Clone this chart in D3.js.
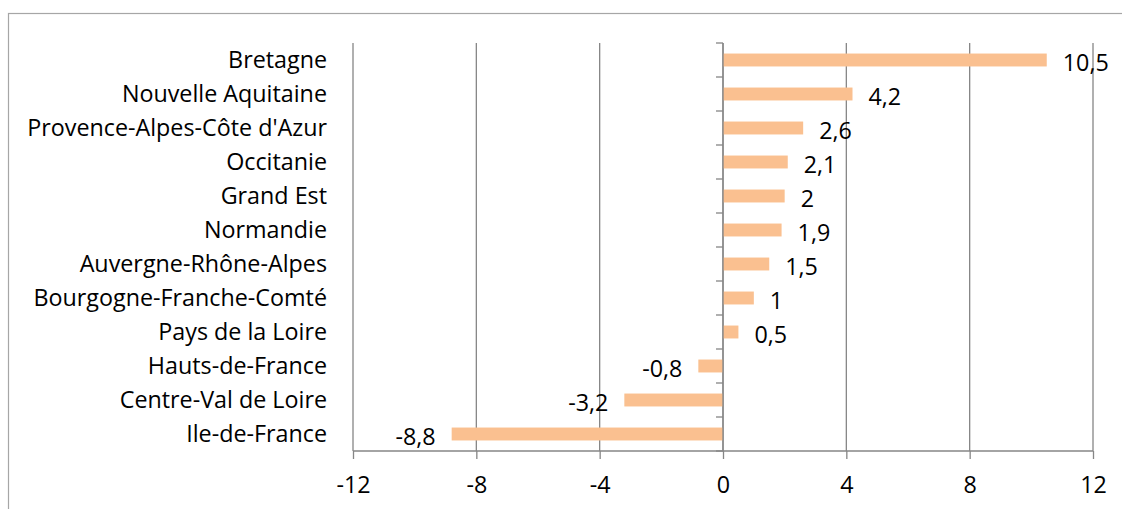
<!DOCTYPE html>
<html><head><meta charset="utf-8">
<script src="https://cdn.jsdelivr.net/npm/d3@7"></script>
<style>
html,body{margin:0;padding:0;background:#fff;}
svg{display:block;font-family:"Open Sans","Lato",sans-serif;}
</style></head>
<body>
<svg id="c" width="1122" height="509"></svg>
<script>
const categories = ["Bretagne","Nouvelle Aquitaine","Provence-Alpes-Côte d'Azur","Occitanie","Grand Est","Normandie","Auvergne-Rhône-Alpes","Bourgogne-Franche-Comté","Pays de la Loire","Hauts-de-France","Centre-Val de Loire","Ile-de-France"];
const values = [10.5,4.2,2.6,2.1,2,1.9,1.5,1,0.5,-0.8,-3.2,-8.8];
const xTicks = [-12,-8,-4,0,4,8,12];

const svg = d3.select("#c");
const L = 353, R = 1093, T = 43, B = 451;
const gridColor = "#868686";
const FONT = "'Open Sans', Lato, sans-serif";

// fit font size so the longest category label is ~300px wide
const probe = svg.append("text").attr("font-family",FONT).attr("font-size",20).text("Provence-Alpes-Côte d'Azur");
const w20 = probe.node().getComputedTextLength();
probe.remove();
const fs = Math.min(24, 20*300/w20);

// outer frame
svg.append("rect").attr("x",8.5).attr("y",13.5).attr("width",1130).attr("height",520)
  .attr("fill","none").attr("stroke","#a6a6a6").attr("stroke-width",1.2);

const x = d3.scaleLinear().domain([-12,12]).range([L,R]);
const y = d3.scaleBand().domain(categories).range([T,B]).paddingInner(0.62).paddingOuter(0.31);

// vertical gridlines
svg.append("g").selectAll("line").data(xTicks).join("line")
  .attr("x1",d=>x(d)).attr("x2",d=>x(d)).attr("y1",T).attr("y2",B)
  .attr("stroke",gridColor).attr("stroke-width",1.3);

// bars
svg.append("g").selectAll("rect").data(values).join("rect")
  .attr("x",d=>x(Math.min(0,d))).attr("width",d=>Math.abs(x(d)-x(0)))
  .attr("y",(d,i)=>y(categories[i])).attr("height",y.bandwidth())
  .attr("fill","#FAC090");

// x axis
const xAxis = d3.axisBottom(x).tickValues(xTicks).tickSize(8).tickPadding(17).tickFormat(d=>String(d));
const gx = svg.append("g").attr("transform",`translate(0,${B})`).call(xAxis);
gx.select(".domain").attr("stroke",gridColor).attr("stroke-width",1.3).attr("d",`M${L},0H${R}`);
gx.selectAll(".tick line").attr("stroke",gridColor).attr("stroke-width",1.3);
gx.selectAll(".tick text").attr("font-size",fs).attr("fill","#000").attr("font-family",FONT);

// y axis at zero with category boundary ticks
const step = y.step();
const bounds = d3.range(categories.length+1).map(i=>T+i*step);
svg.append("g").selectAll("line").data(bounds).join("line")
  .attr("x1",x(0)-7).attr("x2",x(0)).attr("y1",d=>d).attr("y2",d=>d)
  .attr("stroke",gridColor).attr("stroke-width",1.3);
svg.append("line").attr("x1",x(0)).attr("x2",x(0)).attr("y1",T).attr("y2",B)
  .attr("stroke",gridColor).attr("stroke-width",1.3);

// category labels
svg.append("g").selectAll("text").data(categories).join("text")
  .attr("x",327).attr("y",d=>y(d)+y.bandwidth()/2).attr("dy","0.35em")
  .attr("text-anchor","end").attr("font-size",fs).attr("font-family",FONT).attr("fill","#000").text(d=>d);

// value labels
svg.append("g").selectAll("text").data(values).join("text")
  .attr("x",d=> d>=0 ? x(d)+16 : x(d)-16)
  .attr("y",(d,i)=>y(categories[i])+y.bandwidth()/2+3).attr("dy","0.35em")
  .attr("text-anchor",d=> d>=0 ? "start" : "end")
  .attr("font-size",fs).attr("font-family",FONT).attr("fill","#000")
  .text(d=>String(d).replace(".",","));
</script>
</body></html>
